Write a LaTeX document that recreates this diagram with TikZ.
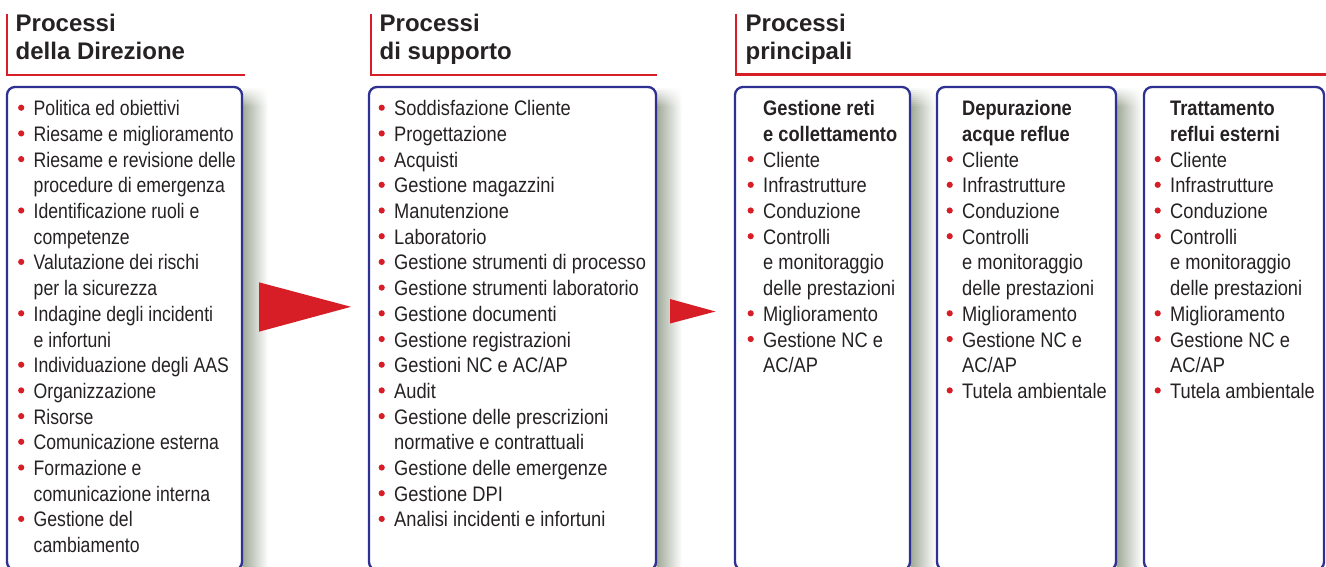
\documentclass[tikz,border=0pt]{standalone}
\usepackage{fontspec}
\setmainfont{Liberation Sans}
\newfontfamily\bodyfont{Liberation Sans}[FakeStretch=0.87]
\newfontfamily\narrowfont{Liberation Sans}[FakeStretch=0.84]
\newfontfamily\headfont{Liberation Sans}

\definecolor{ink}{RGB}{38,34,35}
\definecolor{accent}{RGB}{215,30,38}
\definecolor{frame}{RGB}{46,49,146}
\definecolor{shade}{RGB}{160,169,152}

\tikzset{
  itemtext/.style={anchor=base west, inner sep=0pt, text=ink,
    font=\bodyfont\fontsize{21}{25}\selectfont},
  narrowtext/.style={itemtext, font=\narrowfont\fontsize{21}{25}\selectfont},
  subhead/.style={itemtext, font=\bodyfont\bfseries\fontsize{21}{25}\selectfont},
  headtext/.style={anchor=base west, inner sep=0pt, text=ink,
    font=\headfont\bfseries\fontsize{24}{28}\selectfont},
  bulletdot/.style={circle, fill=accent, inner sep=0pt, minimum size=6.2pt},
  redrule/.style={draw=accent, line width=2.6pt},
  panel/.style={draw=frame, line width=2.3pt, rounded corners=8pt, fill=white},
  pointer/.style={fill=accent},
  listtext/.style={itemtext},
}

% list rows: #1 name, #2 x of text, #3 row number, #4 text
\newcommand\bitem[4]{%
  \node[listtext] (#1) at (#2,{115.7+25.7*#3}) {#4};
  \node[bulletdot] (#1-dot) at (#2-12.3,{115.7+25.7*#3-8}) {};}
\newcommand\citem[4]{%
  \node[listtext] (#1) at (#2,{115.7+25.7*#3}) {#4};}
\newcommand\hitem[4]{%
  \node[subhead] (#1) at (#2,{115.7+25.7*#3}) {#4};}
% soft shadow on the right of a panel: #1 right edge, #2 top, #3 bottom;
% the first 20pt fade in from the top in thin bands
\newcommand\panelshadow[3]{%
  \fill[left color=shade, middle color=shade!30!white, right color=white]
    (#1+0.5,#2+20) rectangle (#1+26,#3);
  \foreach \k in {1,...,10}{%
    \pgfmathtruncatemacro\pct{10*\k}%
    \fill[left color=shade!\pct!white, middle color=shade!\pct!white!30!white, right color=white]
      (#1+0.5,{#2+2*\k-1}) rectangle (#1+26,{#2+2*\k+1.2});}}

\begin{document}
\begin{tikzpicture}[x=1pt,y=-1pt]
\useasboundingbox (0,0) rectangle (1326,566);
\clip (0,0) rectangle (1326,566);

% section headings
\draw[redrule] (7,13.5) -- (7,75) -- (245,75);
\node[headtext] (h1a) at (15.5,31.7) {Processi};
\node[headtext] (h1b) at (15.5,59.7) {della Direzione};

\draw[redrule] (371,13.5) -- (371,75) -- (657,75);
\node[headtext] (h2a) at (379.5,31.7) {Processi};
\node[headtext] (h2b) at (379.5,59.7) {di supporto};

\draw[redrule] (736,13.5) -- (736,74.5) -- (1330,74.5);
\node[headtext] (h3a) at (745.5,31.7) {Processi};
\node[headtext] (h3b) at (745.5,59.7) {principali};

% shadows
\panelshadow{242}{87}{570}
\panelshadow{656}{87}{570}
\panelshadow{910}{87}{570}
\panelshadow{1116}{87}{570}

% panels
\draw[panel] (7,87) rectangle (242,570);
\draw[panel] (369,87) rectangle (656,570);
\draw[panel] (735,87) rectangle (910,570);
\draw[panel] (937,87) rectangle (1116,570);
\draw[panel] (1144,87) rectangle (1324,570);

% flow pointers
\fill[pointer] (259,282.3) -- (351,306.8) -- (259,331.7) -- cycle;
\fill[pointer] (670,299) -- (715.5,311.5) -- (670,323.5) -- cycle;

% Processi della Direzione
\begin{scope}[listtext/.style={narrowtext}]
\bitem{d1}{33.5}{0}{Politica ed obiettivi}
\bitem{d2}{33.5}{1}{Riesame e miglioramento}
\bitem{d3}{33.5}{2}{Riesame e revisione delle}
\citem{d3b}{33.5}{3}{procedure di emergenza}
\bitem{d4}{33.5}{4}{Identificazione ruoli e}
\citem{d4b}{33.5}{5}{competenze}
\bitem{d5}{33.5}{6}{Valutazione dei rischi}
\citem{d5b}{33.5}{7}{per la sicurezza}
\bitem{d6}{33.5}{8}{Indagine degli incidenti}
\citem{d6b}{33.5}{9}{e infortuni}
\bitem{d7}{33.5}{10}{Individuazione degli AAS}
\bitem{d8}{33.5}{11}{Organizzazione}
\bitem{d9}{33.5}{12}{Risorse}
\bitem{d10}{33.5}{13}{Comunicazione esterna}
\bitem{d11}{33.5}{14}{Formazione e}
\citem{d11b}{33.5}{15}{comunicazione interna}
\bitem{d12}{33.5}{16}{Gestione del}
\citem{d12b}{33.5}{17}{cambiamento}
\end{scope}

% Processi di supporto
\bitem{s1}{394}{0}{Soddisfazione Cliente}
\bitem{s2}{394}{1}{Progettazione}
\bitem{s3}{394}{2}{Acquisti}
\bitem{s4}{394}{3}{Gestione magazzini}
\bitem{s5}{394}{4}{Manutenzione}
\bitem{s6}{394}{5}{Laboratorio}
\bitem{s7}{394}{6}{Gestione strumenti di processo}
\bitem{s8}{394}{7}{Gestione strumenti laboratorio}
\bitem{s9}{394}{8}{Gestione documenti}
\bitem{s10}{394}{9}{Gestione registrazioni}
\bitem{s11}{394}{10}{Gestioni NC e AC/AP}
\bitem{s12}{394}{11}{Audit}
\bitem{s13}{394}{12}{Gestione delle prescrizioni}
\citem{s13b}{394}{13}{normative e contrattuali}
\bitem{s14}{394}{14}{Gestione delle emergenze}
\bitem{s15}{394}{15}{Gestione DPI}
\bitem{s16}{394}{16}{Analisi incidenti e infortuni}

% Gestione reti e collettamento
\hitem{ra}{763}{0}{Gestione reti}
\hitem{rb}{763}{1}{e collettamento}
\bitem{r1}{763}{2}{Cliente}
\bitem{r2}{763}{3}{Infrastrutture}
\bitem{r3}{763}{4}{Conduzione}
\bitem{r4}{763}{5}{Controlli}
\citem{r4b}{763}{6}{e monitoraggio}
\citem{r4c}{763}{7}{delle prestazioni}
\bitem{r5}{763}{8}{Miglioramento}
\bitem{r6}{763}{9}{Gestione NC e}
\citem{r6b}{763}{10}{AC/AP}

% Depurazione acque reflue
\hitem{pa}{962}{0}{Depurazione}
\hitem{pb}{962}{1}{acque reflue}
\bitem{p1}{962}{2}{Cliente}
\bitem{p2}{962}{3}{Infrastrutture}
\bitem{p3}{962}{4}{Conduzione}
\bitem{p4}{962}{5}{Controlli}
\citem{p4b}{962}{6}{e monitoraggio}
\citem{p4c}{962}{7}{delle prestazioni}
\bitem{p5}{962}{8}{Miglioramento}
\bitem{p6}{962}{9}{Gestione NC e}
\citem{p6b}{962}{10}{AC/AP}
\bitem{p7}{962}{11}{Tutela ambientale}

% Trattamento reflui esterni
\hitem{ta}{1170}{0}{Trattamento}
\hitem{tb}{1170}{1}{reflui esterni}
\bitem{t1}{1170}{2}{Cliente}
\bitem{t2}{1170}{3}{Infrastrutture}
\bitem{t3}{1170}{4}{Conduzione}
\bitem{t4}{1170}{5}{Controlli}
\citem{t4b}{1170}{6}{e monitoraggio}
\citem{t4c}{1170}{7}{delle prestazioni}
\bitem{t5}{1170}{8}{Miglioramento}
\bitem{t6}{1170}{9}{Gestione NC e}
\citem{t6b}{1170}{10}{AC/AP}
\bitem{t7}{1170}{11}{Tutela ambientale}
\end{tikzpicture}
\end{document}
